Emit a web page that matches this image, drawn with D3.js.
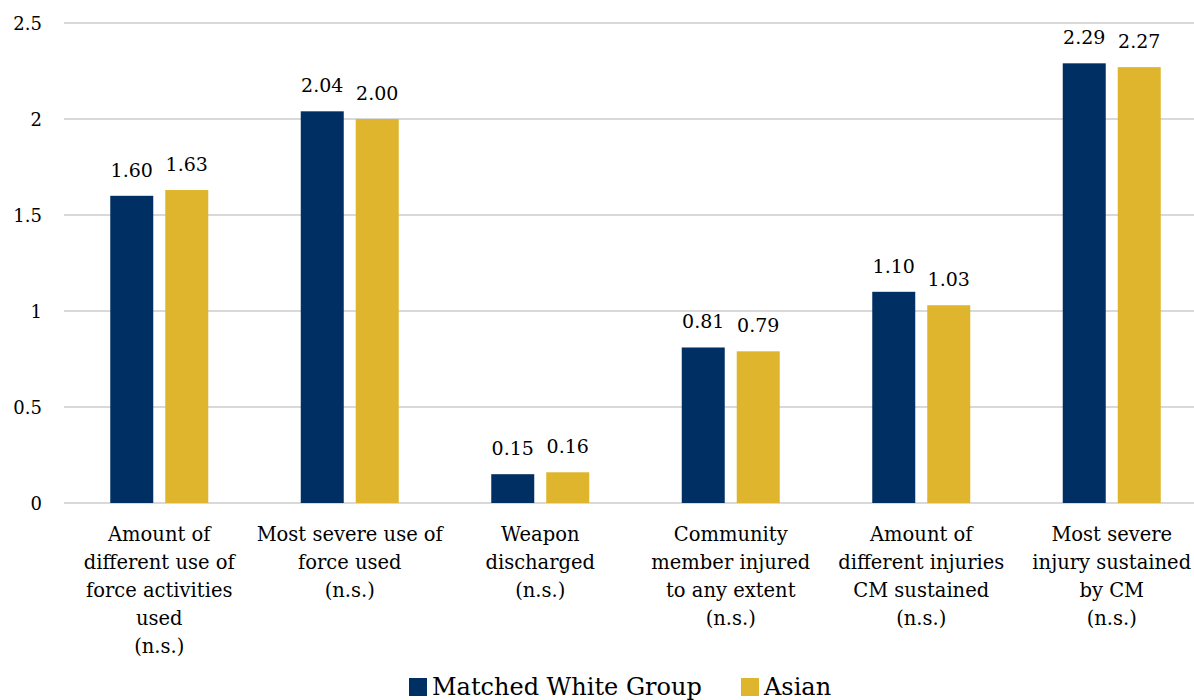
<!DOCTYPE html>
<html><head><meta charset="utf-8">
<script src="https://cdn.jsdelivr.net/npm/d3@7"></script>
<style>body{margin:0;background:#fff}svg{display:block}text{font-family:"DejaVu Serif",serif;fill:#000}</style>
</head><body>
<svg id="c" width="1194" height="700"></svg>
<script>
const categories = [
  ["Amount of","different use of","force activities","used","(n.s.)"],
  ["Most severe use of","force used","(n.s.)"],
  ["Weapon","discharged","(n.s.)"],
  ["Community","member injured","to any extent","(n.s.)"],
  ["Amount of","different injuries","CM sustained","(n.s.)"],
  ["Most severe","injury sustained","by CM","(n.s.)"]
];
const seriesNames = ["Matched White Group","Asian"];
const whiteValues = [1.60, 2.04, 0.15, 0.81, 1.10, 2.29];
const asianValues = [1.63, 2.00, 0.16, 0.79, 1.03, 2.27];
const yTicks = [0, 0.5, 1, 1.5, 2, 2.5];
const colors = ["#003063", "#DEB52C"];

const svg = d3.select("#c");
const x = d3.scaleBand().domain(d3.range(categories.length)).range([64, 1207]).paddingInner(0).paddingOuter(0);
const y = d3.scaleLinear().domain([0, 2.5]).range([503, 23]);
const inner = d3.scaleBand().domain([0,1]).range([46.25, x.bandwidth() - 46.25]).paddingInner(12/55).paddingOuter(0);

svg.append("g").selectAll("line").data(yTicks).join("line")
  .attr("x1", 64).attr("x2", 1194)
  .attr("y1", d => y(d)).attr("y2", d => y(d))
  .attr("stroke", "#d9d9d9").attr("stroke-width", 2);

const yAxis = d3.axisLeft(y).tickValues(yTicks).tickFormat(d3.format("")).tickSize(0).tickPadding(0);
const yg = svg.append("g").attr("transform", "translate(42,0)").call(yAxis);
yg.select(".domain").remove();
yg.selectAll("text").style("font-size", "18px").attr("dy", "0.35em").style("font-family", '"DejaVu Serif",serif');

const data = categories.map((c, i) => ({i, vals: [whiteValues[i], asianValues[i]]}));
const groups = svg.append("g").selectAll("g").data(data).join("g")
  .attr("transform", d => `translate(${x(d.i)},0)`);
groups.selectAll("rect").data(d => d.vals.map((v, k) => ({v, k}))).join("rect")
  .attr("x", d => inner(d.k)).attr("width", inner.bandwidth())
  .attr("y", d => y(d.v)).attr("height", d => y(0) - y(d.v))
  .attr("fill", d => colors[d.k]);
groups.selectAll("text.val").data(d => d.vals.map((v, k) => ({v, k}))).join("text")
  .attr("class", "val")
  .attr("x", d => inner(d.k) + inner.bandwidth() / 2)
  .attr("y", d => y(d.v) - 19)
  .attr("text-anchor", "middle").style("font-size", "19px")
  .text(d => d3.format(".2f")(d.v));

const cl = svg.append("g").selectAll("text").data(data).join("text")
  .attr("x", d => x(d.i) + x.bandwidth() / 2)
  .attr("y", 541)
  .attr("text-anchor", "middle").style("font-size", "19.5px");
cl.selectAll("tspan").data(d => categories[d.i]).join("tspan")
  .attr("x", function(){ return d3.select(this.parentNode).attr("x"); })
  .attr("dy", (d, j) => j === 0 ? 0 : 28)
  .text(d => d);

const legend = svg.append("g");
const legItems = [{name: seriesNames[0], x: 409}, {name: seriesNames[1], x: 741}];
legItems.forEach((it, k) => {
  legend.append("rect").attr("x", it.x).attr("y", 678).attr("width", 18).attr("height", 18).attr("fill", colors[k]);
  legend.append("text").attr("x", it.x + 23).attr("y", 695).style("font-size", "24px").text(it.name);
});
</script>
</body></html>
